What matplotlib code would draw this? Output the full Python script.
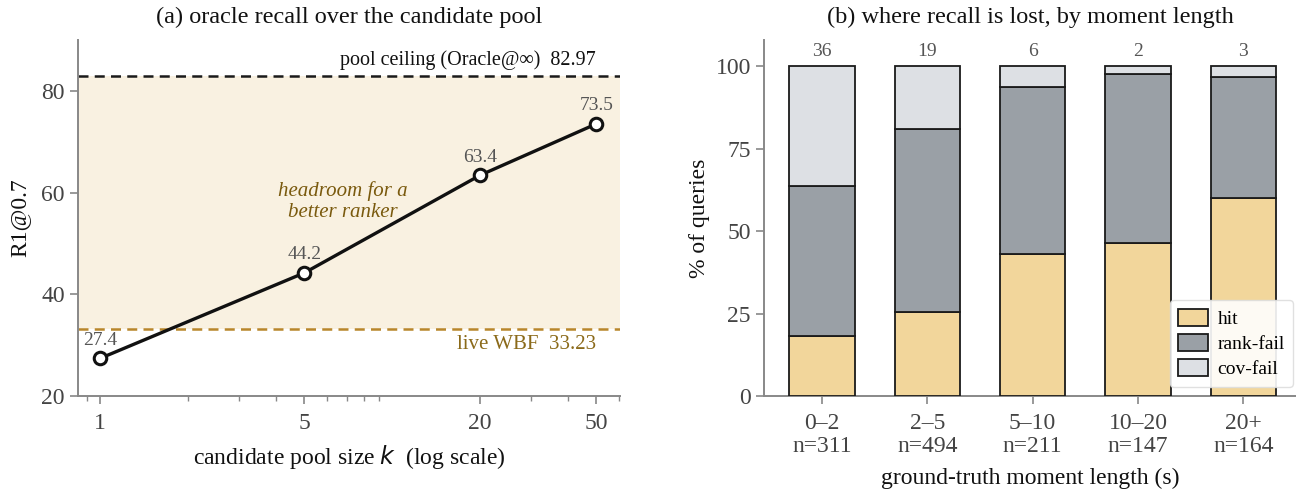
import matplotlib
matplotlib.use("Agg")
import matplotlib.pyplot as plt
import numpy as np

plt.rcParams['font.family'] = ['Liberation Serif', 'DejaVu Serif']
plt.rcParams['axes.unicode_minus'] = False

# panel (a) data
pool_k = [1, 5, 20, 50]
oracle_r1 = [27.4, 44.2, 63.4, 73.5]
ceiling = 82.97
live_wbf = 33.23

# panel (b) data
length_bins = ["0–2", "2–5", "5–10", "10–20", "20+"]
n_queries = [311, 494, 211, 147, 164]
hit_pct = [18.3, 25.5, 43.0, 46.3, 60.1]
rank_fail_pct = [45.4, 55.5, 50.6, 51.4, 36.7]
cov_fail_pct = [36.3, 19.0, 6.4, 2.3, 3.2]

TICK_C = '#444444'
SPINE_C = '#888888'

fig = plt.figure(figsize=(12.96, 4.91), dpi=100)
ax1 = fig.add_axes([78 / 1296, 95 / 491, 542 / 1296, 356 / 491])
ax2 = fig.add_axes([764 / 1296, 95 / 491, 532 / 1296, 356 / 491])

for ax in (ax1, ax2):
    ax.spines['top'].set_visible(False)
    ax.spines['right'].set_visible(False)
    for s in ('left', 'bottom'):
        ax.spines[s].set_color(SPINE_C)
        ax.spines[s].set_linewidth(1.4)
    ax.tick_params(colors=SPINE_C, labelcolor=TICK_C, labelsize=17, width=1.2, length=6)
    ax.tick_params(axis='x', pad=6.5)
    ax.tick_params(which='minor', colors=SPINE_C, width=1.0, length=3.5)

# ---- (a) oracle recall ----
ax1.set_xscale('log')
ax1.set_xlim(0.84, 60.3)
ax1.set_ylim(20, 90)
ax1.axhspan(live_wbf, ceiling, color='#f9f1e1', zorder=0, lw=0)
ax1.axhline(ceiling, color='#1a1a1a', ls=(0, (4, 2.5)), lw=1.8, zorder=2)
ax1.axhline(live_wbf, color='#b8862b', ls=(0, (4, 2.5)), lw=1.8, zorder=2)
ax1.plot(pool_k, oracle_r1, color='#111111', lw=2.4, marker='o', ms=9,
         mfc='white', mec='#111111', mew=2.2, zorder=4)
for k, v in zip(pool_k, oracle_r1):
    ax1.annotate(f"{v:.1f}", (k, v), xytext=(0, 7), textcoords='offset points',
                 ha='center', va='bottom', fontsize=14, color='#555555')
ax1.set_xticks(pool_k)
ax1.set_xticklabels([str(k) for k in pool_k])
ax1.set_yticks([20, 40, 60, 80])
ax1.text(50, ceiling + 1.1, "pool ceiling (Oracle@∞)  82.97", ha='right', va='bottom',
         fontsize=14.5, color='#111111')
ax1.text(50, live_wbf - 1.3, "live WBF  33.23", ha='right', va='top',
         fontsize=15, color='#8b6a1a')
ax1.text(6.8, 58.2, "headroom for a\nbetter ranker", ha='center', va='center',
         fontsize=15, style='italic', color='#7a5a0e', linespacing=1.1)
ax1.set_xlabel("candidate pool size $k$  (log scale)", fontsize=17, color='#111111', labelpad=6)
ax1.set_ylabel("R1@0.7", fontsize=17, color='#111111', labelpad=8)
ax1.set_title("(a) oracle recall over the candidate pool", fontsize=17.5, color='#111111', pad=12)

# ---- (b) stacked bars ----
x = np.arange(len(length_bins))
w = 0.62
hit = np.array(hit_pct)
rank = np.array(rank_fail_pct)
cov = np.array(cov_fail_pct)
ax2.bar(x, hit, w, color='#f2d69b', edgecolor='#1a1a1a', lw=1.3, label='hit', zorder=3)
ax2.bar(x, rank, w, bottom=hit, color='#9aa0a6', edgecolor='#1a1a1a', lw=1.3, label='rank-fail', zorder=3)
ax2.bar(x, cov, w, bottom=hit + rank, color='#dde0e4', edgecolor='#1a1a1a', lw=1.3, label='cov-fail', zorder=3)
for xi, c in zip(x, cov):
    ax2.text(xi, 104.6, f"{c:.0f}", ha='center', va='center', fontsize=14, color='#555555')
ax2.set_xlim(-0.55, 4.5)
ax2.set_ylim(0, 108)
ax2.set_yticks([0, 25, 50, 75, 100])
ax2.set_xticks(x)
ax2.set_xticklabels([f"{b}\nn={n}" for b, n in zip(length_bins, n_queries)], linespacing=1.1)
ax2.set_xlabel("ground-truth moment length (s)", fontsize=17, color='#111111', labelpad=8)
ax2.set_ylabel("% of queries", fontsize=17, color='#111111')
ax2.set_title("(b) where recall is lost, by moment length", fontsize=17.5, color='#111111', pad=12)
leg = ax2.legend(loc='lower right', bbox_to_anchor=(0.995, 0.025), fontsize=14,
                 frameon=True, handlelength=1.5, handleheight=1.0, borderpad=0.45,
                 labelspacing=0.3, handletextpad=0.5, borderaxespad=0.0)
leg.get_frame().set_edgecolor('#dddddd')
leg.get_frame().set_alpha(0.9)

fig.savefig("out.png", dpi=100)
